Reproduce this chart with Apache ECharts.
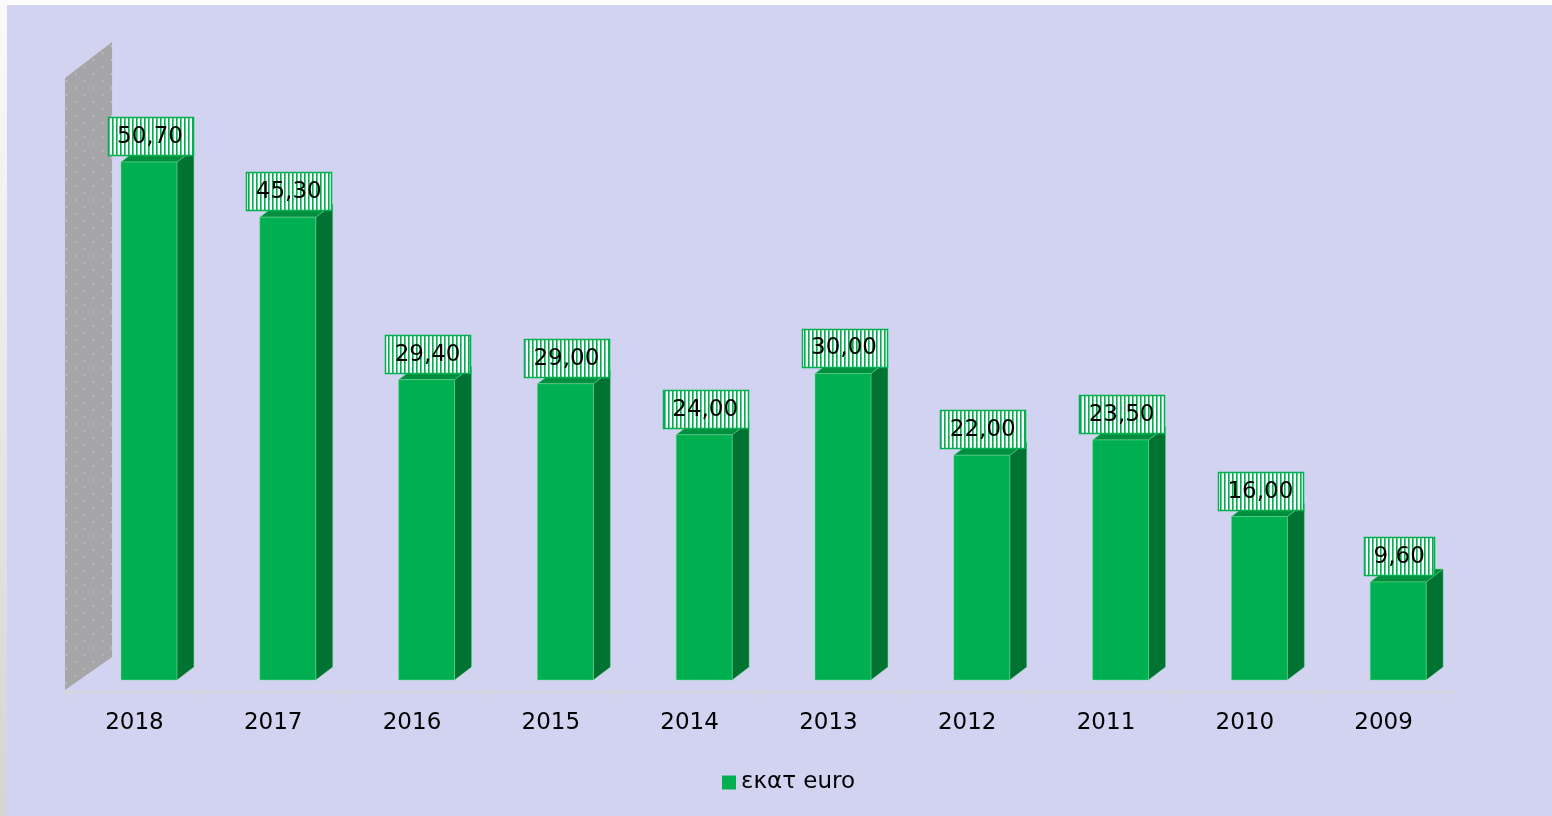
<!DOCTYPE html>
<html>
<head>
<meta charset="utf-8">
<script src="https://cdn.jsdelivr.net/npm/echarts@6/dist/echarts.min.js"></script>
<style>
html,body{margin:0;padding:0;background:#ffffff;}
#main{width:1552px;height:816px;}
</style>
</head>
<body>
<div id="main"></div>
<script>
// ---- data ----
var categories = ['2018','2017','2016','2015','2014','2013','2012','2011','2010','2009'];
var values = [50.7, 45.3, 29.4, 29.0, 24.0, 30.0, 22.0, 23.5, 16.0, 9.6];
var seriesName = 'εκατ euro';
var yMax = 60;

// ---- patterns ----
function stripePattern(){
  var c = document.createElement('canvas'); c.width = 4; c.height = 4;
  var g = c.getContext('2d');
  g.fillStyle = '#ffffff'; g.fillRect(0,0,4,4);
  g.fillStyle = '#00B050'; g.fillRect(0,0,1,4);
  g.fillStyle = '#60CC90'; g.fillRect(1,0,1,4);
  return c;
}
function dotPattern(){
  var c = document.createElement('canvas'); c.width = 18; c.height = 14;
  var g = c.getContext('2d');
  g.fillStyle = '#A6A6A8'; g.fillRect(0,0,18,14);
  g.fillStyle = '#C4C4D4';
  g.fillRect(3,3,1,2); g.fillRect(12,10,1,2);
  return c;
}
var stripes = stripePattern();
var dots = dotPattern();
var FONT = '23px "DejaVu Sans", Verdana, sans-serif';
var mctx = document.createElement('canvas').getContext('2d');
mctx.font = FONT;

function fmt(v){ return v.toFixed(2).replace('.', ','); }

var chart = echarts.init(document.getElementById('main'), null, {renderer:'canvas'});

var option = {
  backgroundColor: '#D1D3F0',
  animation: false,
  graphic: [
    {type:'rect', shape:{x:0,y:0,width:1552,height:5}, style:{fill:'#ffffff'}, silent:true, z:-10},
    {type:'rect', shape:{x:0,y:0,width:7,height:816}, style:{fill:{type:'linear',x:0,y:0,x2:0,y2:1,colorStops:[{offset:0,color:'#FAFAFA'},{offset:1,color:'#D3D5D5'}]}}, silent:true, z:-10}
  ],
  grid: {left: 65, right: 99, top: 67, bottom: 136},
  legend: {
    data: [{name: seriesName, icon: 'rect'}],
    left: 722, top: 771, padding: 0,
    itemWidth: 14, itemHeight: 14,
    textStyle: {fontFamily: '"DejaVu Sans", Verdana, sans-serif', fontSize: 23, color: '#000000'}
  },
  xAxis: {
    type: 'category',
    data: categories,
    offset: 12,
    axisLine: {show: true, onZero: false, lineStyle: {color: '#D6D6D9', width: 2}},
    axisTick: {show: true, interval: 0, length: 7, lineStyle: {color: '#D6D6D9', width: 1.5}},
    axisLabel: {interval: 0, margin: 20, color: '#000000', fontSize: 23, fontFamily: '"DejaVu Sans", Verdana, sans-serif'},
    splitLine: {show: false}
  },
  yAxis: {
    type: 'value', min: 0, max: yMax, interval: 10,
    show: false, splitLine: {show: false}
  },
  series: [
    {
      type: 'custom',
      name: 'wall',
      silent: true,
      z: 1,
      data: [[0, yMax]],
      renderItem: function(params, api){
        var band = api.size([1, 0])[0];
        var left = api.coord([0, 0])[0] - band / 2;
        var y0 = api.coord([0, 0])[1];
        var yT = api.coord([0, api.value(1)])[1];
        var d = band * 0.339;
        return {
          type: 'polygon',
          shape: {points: [[left, y0 + 10], [left, yT + 11], [left + d, yT - 25], [left + d, y0 - 23]]},
          style: {fill: {image: dots, repeat: 'repeat'}, stroke: null}
        };
      }
    },
    {
      type: 'custom',
      name: seriesName,
      z: 2,
      itemStyle: {color: '#00B050'},
      data: values.map(function(v, i){ return [i, v]; }),
      renderItem: function(params, api){
        var i = api.value(0), v = api.value(1);
        var band = api.size([1, 0])[0];
        var c = api.coord([i, v]);
        var base = api.coord([i, 0]);
        var w = band * 0.403;
        var cx = c[0] + band * 0.105;
        var x1 = cx - w / 2, x2 = cx + w / 2;
        var yt = c[1], yb = base[1];
        var dx = band * 0.1225, dy = -13;
        var txt = fmt(v);
        var tw = mctx.measureText(txt).width;
        var bw = tw + 19, bh = 38;
        var bx = cx + 1 - bw / 2, by = yt - 7 - bh;
        var edge = 'rgba(120,220,150,0.55)';
        return {
          type: 'group',
          children: [
            {type: 'polygon', shape: {points: [[x2, yt], [x2 + dx, yt + dy], [x2 + dx, yb + dy], [x2, yb]]},
             style: {fill: '#007232', stroke: edge, lineWidth: 0.8}},
            {type: 'polygon', shape: {points: [[x1, yt], [x2, yt], [x2 + dx, yt + dy], [x1 + dx, yt + dy]]},
             style: {fill: '#008F3F', stroke: edge, lineWidth: 0.8}},
            {type: 'rect', shape: {x: x1, y: yt, width: w, height: yb - yt},
             style: {fill: '#00B050', stroke: edge, lineWidth: 0.8}},
            {type: 'rect', shape: {x: Math.round(bx) + 0.5, y: Math.round(by) + 0.5, width: Math.round(bw), height: bh},
             style: {fill: {image: stripes, repeat: 'repeat'}, stroke: '#00B050', lineWidth: 1.5}},
            {type: 'text', x: bx + bw / 2, y: by + bh / 2 + 1,
             style: {text: txt, font: FONT, fill: '#000000', align: 'center', verticalAlign: 'middle'}}
          ]
        };
      }
    }
  ]
};
chart.setOption(option);
</script>
</body>
</html>
